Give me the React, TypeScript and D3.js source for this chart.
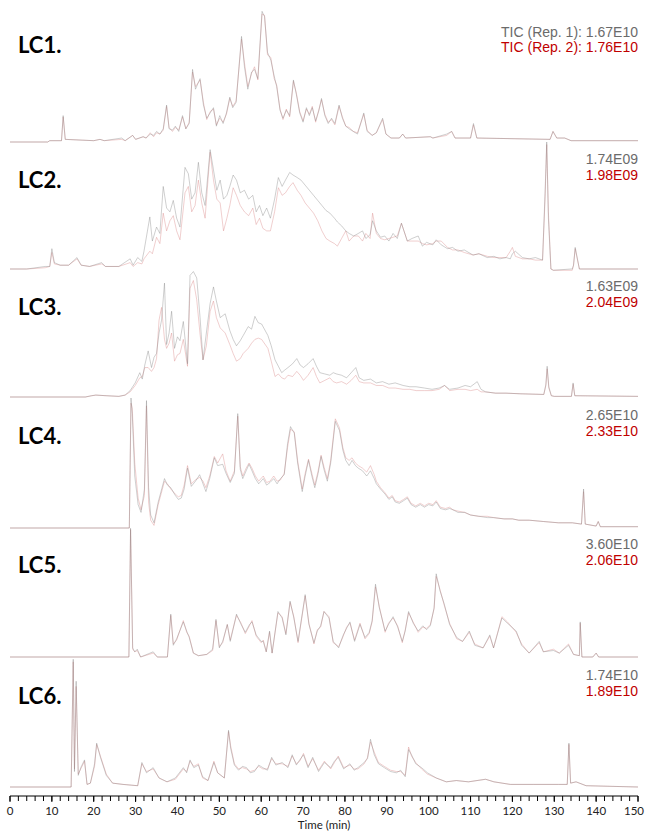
import React, { useEffect, useRef } from "react";
import * as d3 from "d3";

// Panel labels and the TIC totals for each replicate
const panelNames = ["LC1.", "LC2.", "LC3.", "LC4.", "LC5.", "LC6."];
const rep1Totals = ["TIC (Rep. 1): 1.67E10", "1.74E09", "1.63E09", "2.65E10", "3.60E10", "1.74E10"];
const rep2Totals = ["TIC (Rep. 2): 1.76E10", "1.98E09", "2.04E09", "2.33E10", "2.06E10", "1.89E10"];

const xTicks = [0, 10, 20, 30, 40, 50, 60, 70, 80, 90, 100, 110, 120, 130, 140, 150];

// Relative intensity (% of panel full scale)
const lc1Time = [0, 9, 9.5, 12.3, 12.7, 13.2, 20, 21.5, 22.5, 26.7, 27.5, 29.3, 30, 31.8, 32.5, 33.5, 34.3, 35, 35.8, 36.6, 37.4, 38, 38.8, 39.5, 40.3, 41.2, 42, 42.8, 43.6, 44.3, 45.4, 46.2, 47, 47.8, 48.6, 49.3, 50.1, 50.9, 51.7, 52.5, 53.2, 54, 55.3, 56, 56.8, 57.7, 58.4, 59.2, 60.2, 60.8, 61.5, 62.3, 63.1, 63.7, 64.5, 65.2, 66, 66.8, 67.7, 68.4, 69.2, 70, 70.8, 71.5, 72.2, 73, 73.8, 74.4, 75.2, 76, 76.8, 77.6, 78.6, 79.4, 80.2, 81, 82, 83, 84.5, 85.3, 86.5, 87.5, 89, 89.8, 91, 93, 93.8, 94.5, 100.4, 101, 104.3, 105.5, 106.3, 110, 110.7, 111.5, 129, 129.7, 130.6, 132.5, 134, 150];
const lc1Rep1 = [0, 0, 1, 1, 20, 2, 1, 2, 1, 3, 1, 5, 2, 4, 3, 6, 5, 8, 6, 10, 28, 10, 9, 12, 8, 20, 10, 14, 55, 40, 48, 28, 18, 22, 26, 12, 20, 14, 22, 34, 26, 30, 80, 57, 40, 53, 55, 48, 99, 95, 68, 62, 50, 42, 24, 18, 24, 20, 47, 36, 22, 15, 26, 20, 26, 16, 24, 33, 20, 14, 18, 14, 28, 18, 12, 10, 8, 6, 22, 8, 5, 7, 18, 6, 3, 3, 6, 3, 4, 3, 6, 8, 3, 3, 14, 3, 2, 8, 3, 3, 1, 1];
const lc1Rep2 = [0, 0, 1, 1, 19, 2, 1, 2, 1, 2, 1, 5, 2, 4, 3, 7, 4, 7, 6, 9, 27, 11, 8, 11, 9, 19, 10, 15, 53, 42, 47, 30, 17, 23, 25, 13, 18, 15, 21, 33, 27, 31, 78, 60, 42, 52, 57, 47, 97, 96, 66, 64, 48, 43, 25, 17, 25, 19, 46, 37, 23, 16, 25, 21, 27, 15, 25, 32, 21, 15, 17, 13, 27, 19, 12, 11, 8, 7, 21, 9, 5, 7, 17, 6, 3, 3, 6, 3, 4, 3, 5, 8, 3, 3, 13, 3, 2, 8, 3, 3, 1, 1];

const lc2Time = [0, 4, 8.4, 9.5, 10, 10.6, 12, 14, 16, 17, 19, 21.9, 22.8, 26, 28.7, 29.4, 30.5, 31.5, 32, 33.4, 34, 35, 35.8, 36.6, 37.4, 38.2, 39, 39.8, 40.6, 41.8, 42.6, 43.4, 44.2, 45, 45.8, 46.6, 47.8, 48.6, 49.4, 50.2, 51, 51.8, 52.5, 53.3, 54.1, 55, 56, 57, 58, 58.8, 59.6, 60.4, 61.3, 62.2, 63.2, 64.1, 65, 65.8, 66.8, 67.6, 68.6, 69.5, 70.5, 71.5, 72.5, 73.5, 74.5, 75.5, 76.4, 77.5, 78.2, 79.2, 80.2, 81, 82.1, 83.2, 84.2, 85, 86, 86.6, 87.5, 88.5, 89.5, 90.5, 91.5, 92.5, 93.5, 94.9, 96, 97.5, 98.5, 99.5, 101, 101.8, 103, 104.5, 105.7, 107, 108.5, 110.6, 112, 114, 115.6, 117, 118.5, 119.5, 120, 120.7, 122.4, 124, 125.5, 127.2, 127.8, 128.2, 128.6, 129.2, 129.8, 134, 134.3, 134.6, 135, 136, 150];
const lc2Rep1 = [0, 0, 2, 2, 16, 5, 3, 3, 9, 3, 2, 5, 2, 2, 8, 3, 9, 6, 14, 41, 22, 33, 28, 65, 48, 45, 54, 40, 33, 80, 75, 55, 60, 84, 60, 50, 94, 78, 62, 70, 55, 58, 65, 74, 70, 60, 62, 55, 58, 45, 50, 42, 48, 40, 55, 72, 65, 70, 76, 74, 72, 70, 66, 62, 58, 54, 50, 46, 44, 40, 37, 34, 30, 28, 26, 28, 30, 24, 27, 38, 30, 25, 26, 22, 28, 24, 36, 22, 24, 26, 18, 21, 19, 23, 19, 16, 17, 14, 15, 11, 12, 9, 10, 8, 9, 8, 12, 14, 9, 8, 9, 7, 60, 100, 40, 0, -1, 0, 0, 3, 17, 0, 0];
const lc2Rep2 = [0, 0, 1, 2, 13, 4, 3, 3, 8, 3, 2, 4, 2, 2, 5, 2, 5, 4, 8, 14, 12, 25, 20, 44, 30, 38, 42, 30, 23, 60, 65, 45, 50, 70, 52, 40, 92, 70, 55, 52, 30, 40, 50, 64, 58, 50, 45, 42, 48, 35, 40, 32, 30, 30, 45, 64, 58, 60, 65, 68, 62, 58, 52, 48, 44, 38, 30, 24, 22, 20, 18, 24, 30, 22, 26, 26, 22, 28, 24, 44, 28, 24, 23, 24, 25, 26, 36, 22, 22, 22, 20, 19, 20, 22, 22, 17, 15, 15, 13, 11, 12, 10, 9, 9, 9, 14, 17, 10, 8, 8, 7, 7, 55, 98, 45, 0, -1, -1, -1, 3, 16, 0, 0];

const lc3Time = [0, 18, 19.5, 20.5, 23, 26, 27.5, 28.7, 29.9, 31, 31.6, 32.2, 33, 33.8, 34.4, 35, 35.6, 36.2, 36.9, 37.4, 38, 38.6, 39.3, 40, 40.6, 41.4, 42.4, 43, 43.8, 44.6, 45.4, 46.1, 46.9, 47.8, 48.6, 49.3, 50.2, 51.4, 52.5, 53.3, 54.1, 55, 55.7, 56.9, 57.7, 58.5, 59.3, 60.1, 61.6, 62.4, 63.3, 64.1, 64.9, 65.6, 66.4, 67.5, 68.5, 69.3, 70.1, 71.2, 72.4, 73.2, 74, 75.2, 76.4, 77.2, 78, 79.2, 80.4, 81.5, 82.6, 83.4, 84.5, 86.1, 87.5, 89, 90.5, 92, 93.9, 95.5, 97, 99, 100.8, 102.5, 103.8, 105, 107, 108.7, 110, 111.6, 112.5, 113.6, 116, 118.5, 122, 127.5, 128, 128.3, 128.7, 129.3, 130, 134.1, 134.5, 134.9, 150];
const lc3Rep1 = [0, 0, 1, 1.5, 1, 0.5, 1.5, 5, 11, 19, 14, 25, 36, 23, 31, 34, 50, 60, 89, 41, 50, 67, 38, 47, 44, 59, 26, 95, 98, 93, 62, 29, 50, 73, 86, 75, 62, 65, 52, 45, 40, 44, 48, 55, 53, 63, 58, 57, 48, 40, 29, 24, 19, 21, 23, 26, 30, 25, 23, 26, 30, 24, 19, 18, 17, 19, 18, 17, 15, 19, 23, 15, 13, 14, 11, 12, 10, 11, 9, 8, 8, 7, 6, 7, 9, 6, 7, 9, 8, 12, 6, 4, 3, 3, 2.5, 2, 10, 24, 8, 1, 0.5, 0.5, 11, 1, 0.5];
const lc3Rep2 = [0, 0, 1, 1.5, 1, 0.5, 1.5, 4, 9, 15, 16, 23, 23, 20, 23, 30, 60, 70, 45, 38, 42, 50, 28, 33, 34, 45, 24, 85, 91, 76, 49, 29, 40, 67, 75, 62, 54, 50, 41, 34, 28, 30, 34, 38, 42, 45, 46, 45, 38, 28, 16, 18, 15, 14, 17, 16, 20, 17, 13, 17, 23, 16, 11, 13, 15, 12, 11, 12, 10, 13, 17, 12, 11, 11, 9, 9, 7, 7, 6, 6, 5, 5, 5, 6, 9, 5, 6, 6, 5, 6, 4, 4, 3, 3, 2.5, 2, 9, 22, 7, 1, 0.5, 0.5, 10, 1, 0.5];

const lc4Time = [0, 28.5, 28.9, 29.2, 29.8, 30.6, 31.3, 32.1, 32.6, 33.1, 33.6, 34.4, 35.4, 36.9, 37.6, 38.4, 39.5, 40.2, 40.9, 41.6, 42.4, 43.3, 44.3, 45.3, 46.1, 46.8, 47.7, 48.8, 49.6, 50.8, 51.6, 52.6, 53.6, 54.4, 55, 55.6, 56.4, 57.1, 57.8, 58.6, 59.4, 60.5, 61.3, 62.1, 63, 63.8, 64.6, 65.5, 66.3, 67, 67.9, 68.7, 69.8, 70.5, 71.3, 72.1, 72.8, 73.6, 74.3, 75, 75.8, 76.6, 77.7, 78.7, 79.5, 80.2, 81, 81.7, 82.5, 83.2, 84.2, 85.2, 86.1, 87, 87.5, 88.5, 89.6, 90.5, 91.3, 92, 93, 94, 94.9, 95.8, 96.9, 98, 99, 100, 101, 101.8, 102.8, 104, 105, 105.8, 107, 108.6, 110, 112, 114, 115.5, 118, 120, 121.5, 124, 127.4, 131, 134.3, 136.5, 137, 137.4, 140, 140.5, 141, 150];
const lc4Rep1 = [0, 0, 100, 88, 40, 18, 12, 30, 98, 31, 10, 4, 20, 38, 33, 31, 25, 22, 23, 30, 46, 32, 36, 41, 34, 28, 38, 54, 48, 49, 42, 35, 42, 88, 45, 38, 44, 49, 44, 38, 34, 38, 33, 35, 38, 34, 38, 41, 65, 78, 73, 50, 28, 40, 52, 40, 31, 42, 55, 45, 36, 50, 82, 75, 60, 52, 48, 52, 48, 46, 44, 40, 44, 38, 34, 30, 26, 22, 24, 20, 19, 21, 23, 18, 16, 18, 16, 18, 17, 20, 15, 14, 15, 14, 12, 12, 10, 9, 8, 8, 7, 7, 6, 6, 5, 4, 4, 3, 30, 3, 1.5, 5, 1, 1];
const lc4Rep2 = [0, 0, 96, 92, 50, 23, 14, 25, 94, 20, 6, 2, 18, 36, 34, 30, 26, 24, 25, 33, 48, 34, 37, 39, 36, 31, 40, 55, 50, 57, 44, 36, 44, 86, 47, 40, 46, 50, 46, 40, 36, 40, 35, 36, 40, 36, 37, 42, 62, 76, 74, 52, 30, 42, 53, 42, 33, 44, 56, 47, 38, 52, 84, 77, 62, 54, 52, 54, 50, 48, 46, 43, 48, 41, 36, 31, 27, 23, 25, 21, 20, 22, 24, 19, 17, 19, 17, 19, 18, 21, 16, 15, 16, 14, 13, 12, 10, 9, 9, 8, 7, 7, 6, 6, 5, 4, 4, 3, 28, 3, 1.5, 5, 1, 1];

const lc5Time = [0, 28.4, 28.8, 29.3, 29.8, 30.4, 31.2, 34.2, 35.2, 37.6, 38.4, 39, 39.8, 41.4, 42.2, 42.8, 43.8, 45, 47, 48.4, 49.2, 50, 50.8, 51.9, 52.6, 53.2, 54.1, 55.2, 56.2, 57.2, 57.8, 58.8, 60, 60.5, 61.2, 62, 62.6, 64, 65, 65.9, 66.9, 67.8, 68.8, 70.5, 71.4, 72.6, 73.4, 74.2, 75, 76.2, 77.2, 78.5, 79.6, 80.4, 81.2, 82.3, 83.6, 84.8, 85.8, 86.5, 87.3, 88.2, 89.6, 90.4, 91.5, 92.6, 93.7, 94.4, 95.2, 96.3, 97.5, 98.6, 99.5, 100.4, 101.3, 101.8, 102.7, 103.7, 105, 106.7, 108.1, 109.7, 111, 113, 114.6, 115.5, 117.5, 118.8, 120.9, 122.2, 124, 126.4, 127.4, 129.8, 131.2, 133.4, 134.6, 136, 136.2, 136.6, 139.2, 140, 140.6, 150];
const lc5Rep1 = [0, 0, 99, 7, 4, 6, 0, 4, 0, 0, 33, 9, 14, 27, 20, 15, 3, 1, 2, 6, 29, 7, 12, 25, 12, 20, 33, 25, 19, 25, 27, 17, 12, 12, 4, 20, 3, 35, 30, 17, 43, 30, 12, 48, 25, 11, 20, 24, 35, 30, 12, 7, 17, 22, 27, 12, 25, 15, 19, 28, 56, 38, 20, 25, 31, 23, 12, 20, 35, 26, 20, 24, 21, 24, 38, 64, 51, 41, 25, 15, 12, 20, 9, 7, 17, 7, 30, 26, 20, 9, 3, 12, 4, 5, 3, 9, 2, 1, 27, 0, 0, 3, 0, 0];
const lc5Rep2 = [0, 0, 98, 6, 4, 5, 0, 3, 0, 0, 32, 10, 13, 28, 19, 16, 3, 1, 2, 5, 28, 8, 11, 25, 13, 21, 32, 26, 18, 24, 28, 16, 11, 13, 4, 19, 3, 34, 31, 18, 42, 31, 11, 47, 26, 10, 21, 23, 35, 31, 11, 8, 16, 23, 26, 13, 26, 14, 18, 27, 54, 39, 19, 26, 30, 24, 11, 21, 34, 27, 19, 23, 22, 25, 37, 62, 52, 40, 26, 14, 12, 19, 10, 7, 16, 7, 31, 27, 19, 10, 3, 11, 4, 6, 3, 10, 2, 1, 26, 0, 0, 3, 0, 0];

const lc6Time = [0, 14.6, 15.1, 15.4, 15.8, 16.3, 16.9, 17.8, 18.4, 19.2, 20.2, 20.7, 21.6, 23, 24.5, 27, 30.5, 31.5, 32.6, 34.2, 35.6, 37.5, 39.5, 41.4, 42.2, 43, 43.9, 45, 46, 47.3, 48.7, 49.6, 51.2, 52.2, 52.7, 53.6, 54.6, 55.5, 56.5, 57.4, 58.4, 59.4, 60.4, 61.5, 62.5, 63.5, 65, 66.4, 67.4, 68.4, 69.2, 70.1, 71.2, 72.3, 73.7, 75.1, 76.6, 77.5, 78.4, 79.7, 81.2, 82.2, 83.1, 84.6, 85.4, 86.1, 87, 88, 89.4, 90.9, 92.3, 93.3, 94.4, 95.2, 95.9, 96.9, 98.3, 99.7, 101.8, 104.2, 106.6, 109.5, 113.6, 115.6, 119.5, 125, 131, 133.1, 133.5, 133.9, 135.2, 137.6, 150];
const lc6Rep1 = [0, 0, 99, 12, 82, 9, 15, 21, 2, 3, 18, 34, 23, 9, 3, 2, 1, 19, 11, 15, 7, 4, 7, 15, 11, 21, 15, 17, 8, 5, 19, 11, 7, 44, 30, 17, 13, 16, 15, 11, 12, 17, 15, 13, 23, 17, 19, 15, 25, 17, 21, 25, 15, 23, 12, 19, 15, 20, 23, 14, 18, 13, 15, 19, 22, 37, 25, 18, 15, 12, 11, 13, 8, 29, 25, 18, 15, 11, 7, 4, 5, 4, 6, 4, 2, 2, 2, 2, 34, 3, 4, 1, 0];
const lc6Rep2 = [0, 0, 97, 14, 78, 10, 14, 20, 2, 3, 16, 33, 24, 10, 3, 2, 1, 18, 12, 14, 7, 4, 6, 14, 12, 20, 16, 18, 7, 5, 20, 11, 7, 43, 32, 18, 14, 15, 14, 12, 13, 16, 14, 14, 22, 18, 18, 16, 24, 18, 20, 26, 16, 22, 13, 20, 14, 19, 24, 15, 17, 14, 14, 18, 23, 35, 27, 19, 16, 13, 12, 12, 9, 31, 24, 19, 14, 10, 7, 4, 5, 4, 6, 4, 2, 2, 2, 2, 33, 3, 4, 1, 0];

const panelTimes = [lc1Time, lc2Time, lc3Time, lc4Time, lc5Time, lc6Time];
const panelRep1 = [lc1Rep1, lc2Rep1, lc3Rep1, lc4Rep1, lc5Rep1, lc6Rep1];
const panelRep2 = [lc1Rep2, lc2Rep2, lc3Rep2, lc4Rep2, lc5Rep2, lc6Rep2];

export default function App() {
    const ref = useRef<SVGSVGElement>(null);

    useEffect(() => {
        const width = 645, height = 831;
        const svg = d3.select(ref.current);
        svg.selectAll("*").remove();
        svg.attr("width", width).attr("height", height);

        const x = d3.scaleLinear().domain([0, 150]).range([10, 638]);

        // baseline / top of each stacked panel
        const bases = [142, 269, 397, 528, 657, 787];
        const tops = [10, 142, 269, 398, 527, 658];

        panelNames.forEach((name, i) => {
            const y = d3.scaleLinear().domain([0, 100]).range([bases[i], tops[i]]);
            const t = panelTimes[i];
            const line = d3.line<number>()
                .x((d, j) => x(t[j]))
                .y(d => y(d));

            svg.append("path")
                .attr("d", line(panelRep2[i]))
                .attr("fill", "none")
                .attr("stroke", "#dc8c8c")
                .attr("stroke-width", 0.6)
                .attr("stroke-opacity", 0.7);
            svg.append("path")
                .attr("d", line(panelRep1[i]))
                .attr("fill", "none")
                .attr("stroke", "#808080")
                .attr("stroke-width", 0.55)
                .attr("stroke-opacity", 0.7);

            svg.append("text")
                .attr("x", 18)
                .attr("y", i === 0 ? 53 : tops[i] + 46)
                .attr("font-family", "Lato, 'Open Sans', sans-serif")
                .attr("font-weight", "bold")
                .attr("font-size", 22)
                .attr("fill", "#000")
                .text(name);

            svg.append("text")
                .attr("x", 638)
                .attr("y", i === 0 ? 37 : tops[i] + 22)
                .attr("text-anchor", "end")
                .attr("font-family", "'Liberation Sans', Arial, sans-serif")
                .attr("font-size", 14)
                .attr("fill", "#6b6b6b")
                .text(rep1Totals[i]);
            svg.append("text")
                .attr("x", 638)
                .attr("y", i === 0 ? 52 : tops[i] + 38)
                .attr("text-anchor", "end")
                .attr("font-family", "'Liberation Sans', Arial, sans-serif")
                .attr("font-size", 14)
                .attr("fill", "#c00000")
                .text(rep2Totals[i]);
        });

        // time axis
        const axisY = 796;
        const axis = svg.append("g").attr("transform", `translate(0,${axisY})`);
        axis.append("line")
            .attr("x1", x(0)).attr("x2", x(150))
            .attr("stroke", "#000").attr("stroke-width", 1);
        axis.selectAll("line.minor")
            .data(d3.range(0, 151, 2))
            .enter()
            .append("line")
            .attr("x1", d => x(d)).attr("x2", d => x(d))
            .attr("y1", 0).attr("y2", 5)
            .attr("stroke", "#000");
        axis.selectAll("line.major")
            .data(xTicks)
            .enter()
            .append("line")
            .attr("x1", d => x(d)).attr("x2", d => x(d))
            .attr("y1", 0).attr("y2", 6)
            .attr("stroke", "#000");
        axis.selectAll("text.tick")
            .data(xTicks)
            .enter()
            .append("text")
            .attr("x", d => Math.min(x(d), 634))
            .attr("y", 19)
            .attr("text-anchor", "middle")
            .attr("font-family", "Lato, sans-serif")
            .attr("font-size", 11.5)
            .attr("fill", "#222")
            .text(d => d);
        svg.append("text")
            .attr("x", x(75))
            .attr("y", 829)
            .attr("text-anchor", "middle")
            .attr("font-family", "Lato, sans-serif")
            .attr("font-size", 11.5)
            .attr("fill", "#222")
            .text("Time (min)");
    }, []);

    return (
        <div style={{ position: "absolute", left: 0, top: 0 }}>
            <svg ref={ref}></svg>
        </div>
    );
}
